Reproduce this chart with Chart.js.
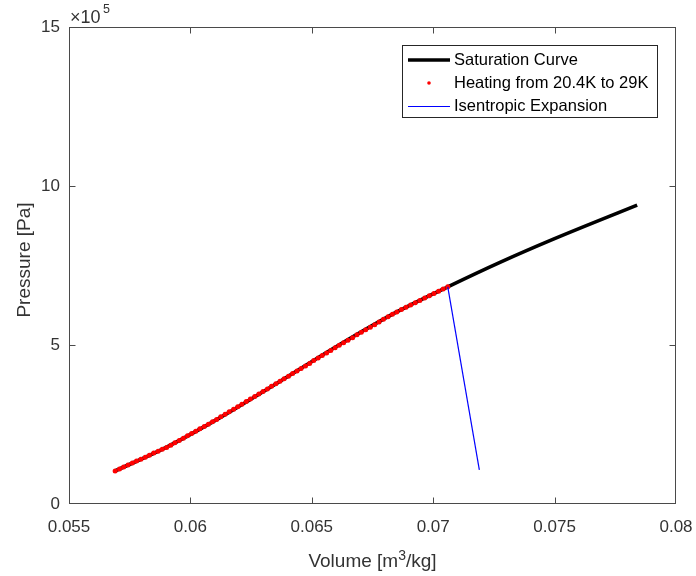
<!DOCTYPE html>
<html>
<head>
<meta charset="utf-8">
<script src="https://cdn.jsdelivr.net/npm/chart.js@4"></script>
<style>
  html, body { margin: 0; padding: 0; background: #fff; }
  #wrap { width: 696px; height: 576px; }
</style>
</head>
<body>
<div id="wrap"><canvas id="graphCanvas" width="696" height="576"></canvas></div>
<script>
// pressures are in units of 1e5 Pa (axis shows x10^5)
const satVolume   = [0.0569, 0.0590, 0.0611, 0.0637, 0.0661, 0.0685, 0.0706, 0.07275, 0.07495, 0.0784];
const satPressure = [1.04, 1.78, 2.66, 3.86, 4.99, 6.04, 6.83, 7.60, 8.33, 9.40];

const heatVolume = [
  0.05690,0.05708,0.05725,0.05743,0.05761,0.05778,0.05796,0.05814,0.05831,0.05849,0.05867,0.05884,
  0.05902,0.05919,0.05936,0.05954,0.05971,0.05988,0.06005,0.06022,0.06039,0.06057,0.06074,0.06091,
  0.06108,0.06125,0.06143,0.06160,0.06178,0.06195,0.06212,0.06230,0.06247,0.06265,0.06282,0.06299,0.06317,0.06334,0.06352,
  0.06369,0.06386,0.06404,0.06421,0.06439,0.06456,0.06474,0.06491,0.06508,0.06526,0.06543,0.06561,0.06578,0.06596,
  0.06613,0.06631,0.06649,0.06668,0.06686,0.06704,0.06722,0.06741,0.06759,0.06777,0.06795,0.06814,0.06832,
  0.06850,0.06869,0.06888,0.06907,0.06926,0.06945,0.06965,0.06984,0.07003,0.07022,0.07041,0.07060
];
const heatPressure = [
  1.04,1.10,1.16,1.23,1.29,1.35,1.41,1.47,1.53,1.60,1.66,1.72,
  1.78,1.85,1.93,2.00,2.07,2.15,2.22,2.29,2.37,2.44,2.51,2.59,
  2.66,2.74,2.82,2.90,2.98,3.06,3.14,3.22,3.30,3.38,3.46,3.54,3.62,3.70,3.78,
  3.86,3.94,4.02,4.10,4.18,4.26,4.34,4.42,4.51,4.59,4.67,4.75,4.83,4.91,
  4.99,5.07,5.15,5.23,5.32,5.40,5.48,5.56,5.64,5.72,5.81,5.89,5.97,
  6.04,6.12,6.19,6.26,6.33,6.40,6.48,6.55,6.62,6.69,6.76,6.83
];

const isenVolume   = [0.0706, 0.0719];
const isenPressure = [6.83, 1.07];

const seriesNames = ['Saturation Curve', 'Heating from 20.4K to 29K', 'Isentropic Expansion'];
const xTicks = [0.055, 0.06, 0.065, 0.07, 0.075, 0.08];
const yTicks = [0, 5, 10, 15];

const FONT = '"Liberation Sans", Arial, Helvetica, sans-serif';
const AXIS_COLOR = '#4a4a4a';
const TEXT_COLOR = '#333333';

function toPoints(xs, ys) {
    let pts = [];
    for (let i = 0; i < xs.length; i++) pts.push({x: xs[i], y: ys[i]});
    return pts;
}

// box, inward ticks, axis titles, exponent, legend
const matlabLook = {
    id: 'matlabLook',
    afterDraw(chart) {
        const ctx = chart.ctx;
        const a = chart.chartArea;
        const xs = chart.scales.x, ys = chart.scales.y;
        const L = Math.round(a.left) + 0.5, R = Math.round(a.right) - 0.5;
        const T = Math.round(a.top) + 0.5, B = Math.round(a.bottom) - 0.5;
        ctx.save();
        ctx.strokeStyle = AXIS_COLOR;
        ctx.lineWidth = 1;
        ctx.strokeRect(L, T, R - L, B - T);
        ctx.beginPath();
        xTicks.forEach(v => {
            let px = Math.round(xs.getPixelForValue(v)) + 0.5;
            if (px <= L + 1 || px >= R - 1) return;
            ctx.moveTo(px, B); ctx.lineTo(px, B - 6);
            ctx.moveTo(px, T); ctx.lineTo(px, T + 6);
        });
        yTicks.forEach(v => {
            let py = Math.round(ys.getPixelForValue(v)) + 0.5;
            if (py <= T + 1 || py >= B - 1) return;
            ctx.moveTo(L, py); ctx.lineTo(L + 6, py);
            ctx.moveTo(R, py); ctx.lineTo(R - 6, py);
        });
        ctx.stroke();

        // exponent label
        ctx.fillStyle = TEXT_COLOR;
        ctx.textAlign = 'left';
        ctx.textBaseline = 'alphabetic';
        ctx.font = '18px ' + FONT;
        ctx.fillText('\u00d710', 70, 23);
        ctx.font = '12.5px ' + FONT;
        ctx.fillText('5', 103, 13);

        // x axis title with superscript
        const cx = (a.left + a.right) / 2;
        ctx.font = '19px ' + FONT;
        let p1 = 'Volume [m', p2 = '3', p3 = '/kg]';
        let w1 = ctx.measureText(p1).width, w3 = ctx.measureText(p3).width;
        ctx.font = '14px ' + FONT;
        let w2 = ctx.measureText(p2).width;
        let sx = cx - (w1 + w2 + w3) / 2;
        ctx.font = '19px ' + FONT;
        ctx.fillText(p1, sx, 567);
        ctx.font = '14px ' + FONT;
        ctx.fillText(p2, sx + w1, 560);
        ctx.font = '19px ' + FONT;
        ctx.fillText(p3, sx + w1 + w2, 567);

        // y axis title
        ctx.save();
        ctx.translate(30, 260);
        ctx.rotate(-Math.PI / 2);
        ctx.textAlign = 'center';
        ctx.fillText('Pressure [Pa]', 0, 0);
        ctx.restore();

        // legend
        ctx.fillStyle = '#ffffff';
        ctx.fillRect(402.5, 45.5, 255, 72);
        ctx.strokeStyle = '#262626';
        ctx.strokeRect(402.5, 45.5, 255, 72);
        const rows = [60, 83, 106];
        ctx.strokeStyle = '#000000';
        ctx.lineWidth = 3.5;
        ctx.beginPath(); ctx.moveTo(408, rows[0]); ctx.lineTo(450, rows[0]); ctx.stroke();
        ctx.fillStyle = '#ff0000';
        ctx.beginPath(); ctx.arc(429, rows[1], 1.8, 0, Math.PI * 2); ctx.fill();
        ctx.strokeStyle = '#0000ff';
        ctx.lineWidth = 1;
        ctx.beginPath(); ctx.moveTo(408, rows[2] + 0.5); ctx.lineTo(450, rows[2] + 0.5); ctx.stroke();
        ctx.fillStyle = '#000000';
        ctx.font = '16.5px ' + FONT;
        ctx.textBaseline = 'middle';
        seriesNames.forEach((n, i) => ctx.fillText(n, 454, rows[i]));
        ctx.restore();
    }
};

let graphTarget = document.getElementById('graphCanvas');
let chart = new Chart(graphTarget, {
    type: 'scatter',
    data: {
        datasets: [
            {
                label: seriesNames[0],
                data: toPoints(satVolume, satPressure),
                showLine: true,
                borderColor: '#000000',
                borderWidth: 3.6,
                pointRadius: 0,
                cubicInterpolationMode: 'monotone',
                order: 3
            },
            {
                label: seriesNames[1],
                data: toPoints(heatVolume, heatPressure),
                showLine: false,
                backgroundColor: '#ff0000',
                borderWidth: 0,
                pointRadius: 2.5,
                order: 2
            },
            {
                label: seriesNames[2],
                data: toPoints(isenVolume, isenPressure),
                showLine: true,
                borderColor: '#0000ff',
                borderWidth: 1.2,
                pointRadius: 0,
                order: 1
            }
        ]
    },
    options: {
        responsive: false,
        animation: false,
        layout: { padding: { top: 27, right: 20, left: 0, bottom: 0 } },
        plugins: { legend: { display: false }, tooltip: { enabled: false } },
        scales: {
            x: {
                type: 'linear',
                min: 0.055,
                max: 0.08,
                afterFit: s => { s.height = 72; s.paddingLeft = 0; s.paddingRight = 0; },
                afterBuildTicks: s => { s.ticks = xTicks.map(v => ({value: v})); },
                grid: { display: false, drawTicks: false },
                border: { display: false },
                ticks: {
                    autoSkip: false,
                    maxRotation: 0,
                    padding: 13,
                    color: TEXT_COLOR,
                    font: { family: FONT, size: 17 },
                    callback: v => parseFloat(Number(v).toFixed(3)).toString()
                }
            },
            y: {
                type: 'linear',
                min: 0,
                max: 15,
                afterFit: s => { s.width = 69; s.paddingTop = 0; s.paddingBottom = 0; },
                afterBuildTicks: s => { s.ticks = yTicks.map(v => ({value: v})); },
                grid: { display: false, drawTicks: false },
                border: { display: false },
                ticks: {
                    padding: 9,
                    color: TEXT_COLOR,
                    font: { family: FONT, size: 17 },
                    callback: v => String(v)
                }
            }
        }
    },
    plugins: [matlabLook]
});
</script>
</body>
</html>
